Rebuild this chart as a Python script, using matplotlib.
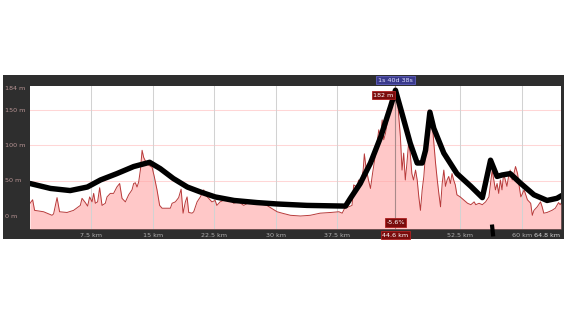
import matplotlib
matplotlib.use('Agg')
from matplotlib import pyplot as plt

# elevation profile (km, m)
dist_km = [0.0, 0.32, 0.56, 1.66, 2.69, 2.88, 3.3, 3.61, 4.52, 5.32, 6.14, 6.35, 6.75, 7.03,
           7.28, 7.57, 7.77, 7.97, 8.25, 8.5, 8.79, 9.19, 9.4, 9.8, 10.2, 10.6, 10.94, 11.23,
           11.64, 12.04, 12.45, 12.65, 12.86, 13.06, 13.26, 13.47, 13.68, 13.87, 14.16, 14.48,
           14.9, 15.18, 15.5, 15.82, 16.12, 17.13, 17.34, 17.74, 18.14, 18.44, 18.68, 18.96,
           19.17, 19.37, 19.78, 19.98, 20.39, 20.79, 21.0, 21.2, 21.4, 21.8, 22.2, 22.6, 22.8,
           23.2, 23.6, 24.25, 24.86, 25.47, 26.08, 26.9, 27.7, 28.9, 30.16, 30.77, 31.78, 33.0,
           34.2, 35.4, 36.7, 37.7, 38.1, 38.4, 38.9, 39.3, 39.5, 39.9, 40.1, 40.3, 40.66, 40.8,
           41.0, 41.3, 41.55, 41.8, 42.3, 42.56, 42.77, 42.98, 43.17, 43.38, 43.59, 43.78,
           43.99, 44.2, 44.4, 44.6, 44.88, 45.0, 45.2, 45.4, 45.6, 45.8, 46.0, 46.2, 46.4, 46.6,
           46.8, 47.05, 47.25, 47.45, 47.65, 47.86, 48.06, 48.27, 48.47, 48.67, 48.88, 49.08,
           49.28, 49.49, 49.7, 49.89, 50.1, 50.3, 50.5, 50.7, 50.9, 51.1, 51.3, 51.5, 51.7, 51.9,
           52.1, 52.5, 52.9, 53.4, 53.8, 54.2, 54.4, 54.8, 55.2, 55.6, 56.0, 56.4, 56.6, 56.8,
           57.0, 57.2, 57.4, 57.6, 57.8, 58.0, 58.2, 58.4, 58.6, 58.85, 59.05, 59.25, 59.5, 59.7,
           59.9, 60.3, 60.7, 61.1, 61.3, 61.5, 61.9, 62.3, 62.5, 62.7, 63.1, 63.7, 64.1, 64.5,
           64.7, 64.8]
elev_m = [18, 23, 8, 6, 1, 3, 26, 6, 5, 8, 15, 25, 19, 14,
          27, 20, 32, 18, 20, 40, 15, 18, 27, 32, 32, 41, 46, 25,
          20, 30, 37, 46, 47, 41, 48, 65, 93, 83, 76, 72,
          69, 55, 37, 15, 11, 11, 18, 20, 26, 38, 4, 20,
          27, 5, 4, 6, 20, 27, 32, 37, 30, 25, 20, 22, 15,
          20, 22, 25, 18, 20, 15, 20, 18, 15, 6, 4, 1, 0,
          1, 4, 5, 6, 4, 11, 13, 15, 44, 41, 51, 44, 65, 88,
          69, 51, 39, 60, 98, 122, 112, 136, 108, 117, 131, 145,
          155, 164, 171, 182, 164, 141, 112, 65, 89, 51, 75, 103, 89, 60,
          51, 65, 51, 27, 8, 37, 56, 89, 122, 150, 145, 131,
          103, 75, 51, 32, 13, 46, 65, 42, 51, 56, 46, 60, 51, 44,
          30, 27, 23, 18, 16, 20, 16, 18, 16, 20, 27, 65, 51, 37,
          46, 32, 51, 37, 60, 51, 42, 56, 65, 51, 60, 70, 60, 42,
          27, 37, 23, 18, 1, 8, 13, 20, 13, 4, 5, 8, 11, 19,
          16, 18]

# hand-drawn black trend line on top
trend_km = [0.0, 2.5, 4.9, 7.0, 8.6, 10.6, 12.65, 14.6, 15.9, 17.5, 19.2, 20.8, 22.6, 24.9,
            27.7, 30.2, 33.8, 38.5, 39.1, 40.3, 41.55, 42.8, 44.0, 44.6, 45.4, 46.4, 47.25,
            47.86, 48.27, 48.8, 49.28, 50.5, 52.1, 53.8, 55.2, 56.2, 57.0, 57.6, 58.6, 59.9,
            61.5, 63.1, 64.3, 64.9]
trend_m = [46, 39, 36, 41, 51, 60, 70, 76, 67, 53, 41, 34, 27, 22,
           19, 17, 15, 14, 25, 46, 75, 112, 155, 178, 145, 103, 75,
           75, 93, 147, 124, 89, 60, 42, 26, 79, 56, 58, 60, 46,
           30, 22, 25, 29]

xtick_vals = [7.5, 15, 22.5, 30, 37.5, 52.5, 60]
xtick_labels = ['7.5 km', '15 km', '22.5 km', '30 km', '37.5 km', '52.5 km', '60 km']
ytick_vals = [184, 150, 100, 50, 0]
ytick_labels = ['184 m', '150 m', '100 m', '50 m', '0 m']

cursor_km = 44.6
cursor_elev = '182 m'
cursor_grade = '-5.6%'
cursor_time = '1s 40d 38s'
total_km = 64.8

fig = plt.figure(figsize=(5.7, 3.19), dpi=100)
fig.patch.set_facecolor('white')

# dark frame behind the chart
bg = fig.add_axes([3/570, 80/319, 561/570, 164/319], zorder=0)
bg.set_facecolor('#2e2e2e')
bg.set_xticks([])
bg.set_yticks([])
for s in bg.spines.values():
    s.set_visible(False)

ax = fig.add_axes([30/570, 90/319, 531/570, 143/319], zorder=1)
ax.set_facecolor('white')
ax.set_xlim(0, total_km)
ax.set_ylim(-18.4, 184)
for s in ax.spines.values():
    s.set_visible(False)
ax.set_xticks([])
ax.set_yticks([])

for x in xtick_vals:
    ax.axvline(x, color='#d2d2d2', lw=0.75, zorder=3)
for y in [50, 100, 150]:
    ax.axhline(y, color='#ffd6d6', lw=0.75, zorder=1)

ax.fill_between(dist_km, elev_m, -18.4, color='#ffa4a4', alpha=0.6, lw=0, zorder=2)
ax.plot(dist_km, elev_m, color='#b83a3a', lw=0.7, zorder=4)

# cursor
ax.axvline(cursor_km, color='#a88a8a', lw=0.8, zorder=4)

ax.plot(trend_km, trend_m, color='black', lw=3.9, solid_capstyle='round',
        solid_joinstyle='round', zorder=6)
# small stray stroke below the chart
ax.plot([56.4, 56.5], [-15, -26], color='black', lw=3, clip_on=False, zorder=7)

fs = 4.6
lab_y = -0.042
for x, t in zip(xtick_vals, xtick_labels):
    ax.text(x, lab_y, t, ha='center', va='center', transform=ax.get_xaxis_transform(),
            clip_on=False, fontsize=fs, color='#b0b0b0', zorder=8)
ax.text(total_km - 0.1, lab_y, f'{total_km} km', ha='right', va='center',
        transform=ax.get_xaxis_transform(), clip_on=False, fontsize=fs, color='#d4d4d4')

for y, t in zip(ytick_vals, ytick_labels):
    va = 'top' if y == 184 else 'center'
    ax.text(-0.047, y, t, ha='left', va=va, transform=ax.get_yaxis_transform(),
            clip_on=False, fontsize=fs, color='#b89494')

box_red = dict(boxstyle='square,pad=0.25', facecolor='#7a0c0c', edgecolor='#b02020', lw=0.6)
box_blue = dict(boxstyle='square,pad=0.25', facecolor='#3a3a8c', edgecolor='#6060c0', lw=0.6)
ax.text(cursor_km, 1.04, cursor_time, ha='center', va='center', transform=ax.get_xaxis_transform(),
        fontsize=fs, color='#e0e0ff', bbox=box_blue, clip_on=False, zorder=9)
ax.text(cursor_km - 0.25, 0.935, cursor_elev, ha='right', va='center', transform=ax.get_xaxis_transform(),
        fontsize=fs, color='white', bbox=box_red, clip_on=False, zorder=9)
ax.text(cursor_km, 0.045, cursor_grade, ha='center', va='center', transform=ax.get_xaxis_transform(),
        fontsize=fs, color='white', bbox=box_red, clip_on=False, zorder=9)
ax.text(cursor_km, lab_y, f'{cursor_km} km', ha='center', va='center', transform=ax.get_xaxis_transform(),
        fontsize=fs, color='white', bbox=box_red, clip_on=False, zorder=9)

fig.savefig('out.png', dpi=100, facecolor='white')
